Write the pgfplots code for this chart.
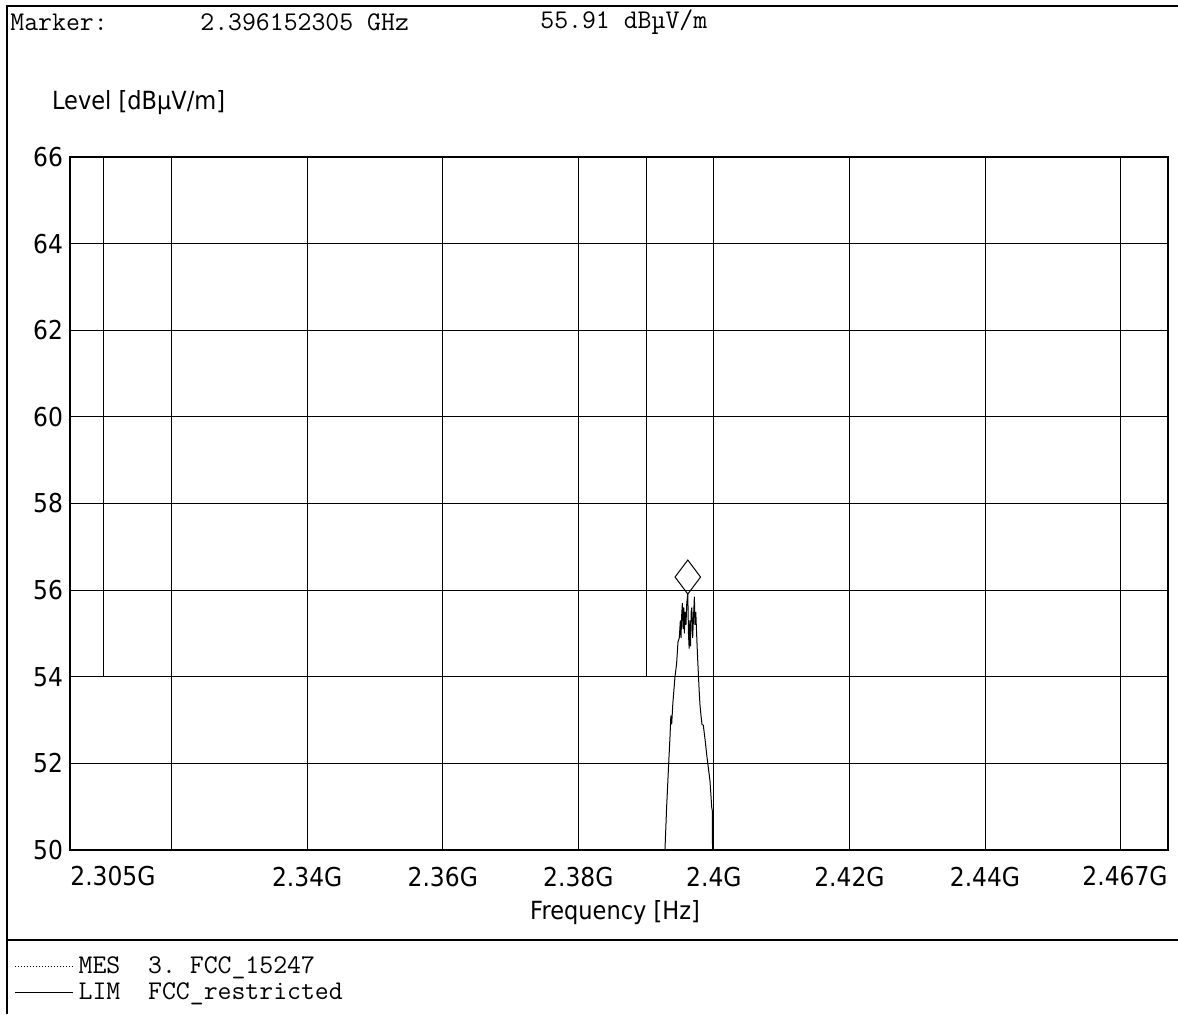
\documentclass[border=0pt]{standalone}
\usepackage{fontspec}
\setmainfont{DejaVu Sans}[FakeStretch=0.9]
\setmonofont{Latin Modern Mono}
\usepackage{pgfplots}
\usepackage{pgfplotstable}
\pgfplotsset{compat=1.18}

% MES trace around the peak, GHz / dBuV/m
\pgfplotstableread{
f        L
2.39200  47.0
2.39278  50.0
2.39303  51.0
2.39330  51.9
2.39352  52.6
2.39365  53.1
2.39377  52.9
2.39395  53.4
2.39426  54.0
2.39450  54.3
2.39470  54.8
2.39490  54.9
2.39505  55.3
2.39515  54.9
2.39524  55.4
2.39535  55.7
2.39545  55.1
2.39555  55.6
2.39565  55.0
2.39575  55.5
2.39588  55.2
2.39600  55.7
2.39615  55.91
2.39625  55.0
2.39635  54.65
2.39645  55.3
2.39655  54.7
2.39665  55.5
2.39675  55.6
2.39687  54.9
2.39700  55.4
2.39712  55.85
2.39721  55.2
2.39733  55.5
2.39746  54.96
2.39758  54.5
2.39770  54.1
2.39782  53.7
2.39795  53.35
2.39810  53.1
2.39825  52.9
2.39844  52.88
2.39870  52.55
2.39894  52.2
2.39918  51.9
2.39942  51.6
2.39955  51.3
2.39967  51.0
2.39977  50.9
2.39983  49.0
2.40000  47.0
}\mes

% FCC restricted band limit
\pgfplotstableread{
f      L
2.305  54
2.31   54
2.31   70
2.39   70
2.39   54
2.467  54
}\lim

\newcommand\labfont{\fontsize{12.5}{15}\selectfont}
\newcommand\tickfont{\fontsize{13}{15}\selectfont}
\newcommand\monofont{\ttfamily\fontsize{13.5}{16}\selectfont}

\begin{document}
\begin{tikzpicture}
\useasboundingbox (0,0) rectangle (589pt,-507pt);
% outer frame
\draw[line width=0.6pt] (3.5pt,-507pt) -- (3.5pt,-3pt) -- (589pt,-3pt);
\draw[line width=0.6pt] (3.5pt,-470pt) -- (589pt,-470pt);
% header
\node[anchor=west, inner sep=0pt, font=\monofont] at (5pt,-11pt) {Marker:};
\node[anchor=west, inner sep=0pt, font=\monofont] at (100pt,-11pt) {2.396152305 GHz};
\node[anchor=west, inner sep=0pt, font=\monofont] at (270pt,-11pt) {55.91 dBµV/m};

\begin{axis}[
    at={(35pt,-425pt)}, anchor=south west,
    scale only axis,
    width=549pt, height=346.5pt,
    clip mode=individual,
    xmin=2.305, xmax=2.467,
    ymin=50, ymax=66,
    xtick={2.305,2.32,2.34,2.36,2.38,2.4,2.42,2.44,2.46,2.467},
    xticklabels={,,2.34G,2.36G,2.38G,2.4G,2.42G,2.44G,,},
    ytick={50,52,...,66},
    major tick length=0pt,
    grid=major,
    major grid style={black, line width=0.5pt},
    axis line style={black, line width=0.6pt},
    tick label style={font=\tickfont, black},
    xticklabel style={yshift=-5pt},
    /pgf/number format/assume math mode=true,
    xlabel={Frequency [Hz]},
    xlabel style={font=\labfont, at={(axis description cs:0.4964,-0.0909)}, anchor=center},
    ylabel={Level [dBµV/m]},
    ylabel style={font=\labfont, rotate=-90, at={(axis description cs:-0.0228,1.078)}, anchor=west},
    legend style={at={(axis description cs:-0.0510,-0.1500)}, anchor=north west,
        draw=none, fill=none, font=\monofont, inner sep=0pt, row sep=1pt,
        nodes={inner xsep=2.5pt, inner ysep=1pt}},
    legend cell align=left,
    legend image code/.code={\draw[#1] (0pt,0pt) -- (29pt,0pt);},
]
\addplot[black, line width=0.5pt, legend image post style={densely dotted, line width=0.4pt}]
    table[x=f, y=L] {\mes};
\addlegendentry{MES\ \ 3.\ FCC\_15247}
\addplot[black, line width=0.6pt] table[x=f, y=L] {\lim};
\addlegendentry{LIM\ \ FCC\_restricted}
\addplot[only marks, mark=diamond, mark size=8.5pt, forget plot,
    mark options={fill=white, draw=black, line width=0.5pt, yshift=8.5pt}]
    coordinates {(2.396152305,55.91)};
\node[anchor=north west, font=\tickfont, inner sep=0pt] at (rel axis cs:0,0) [yshift=-7.8pt] {2.305G};
\node[anchor=north east, font=\tickfont, inner sep=0pt] at (rel axis cs:1,0) [yshift=-7.8pt] {2.467G};
\end{axis}
\end{tikzpicture}
\end{document}
